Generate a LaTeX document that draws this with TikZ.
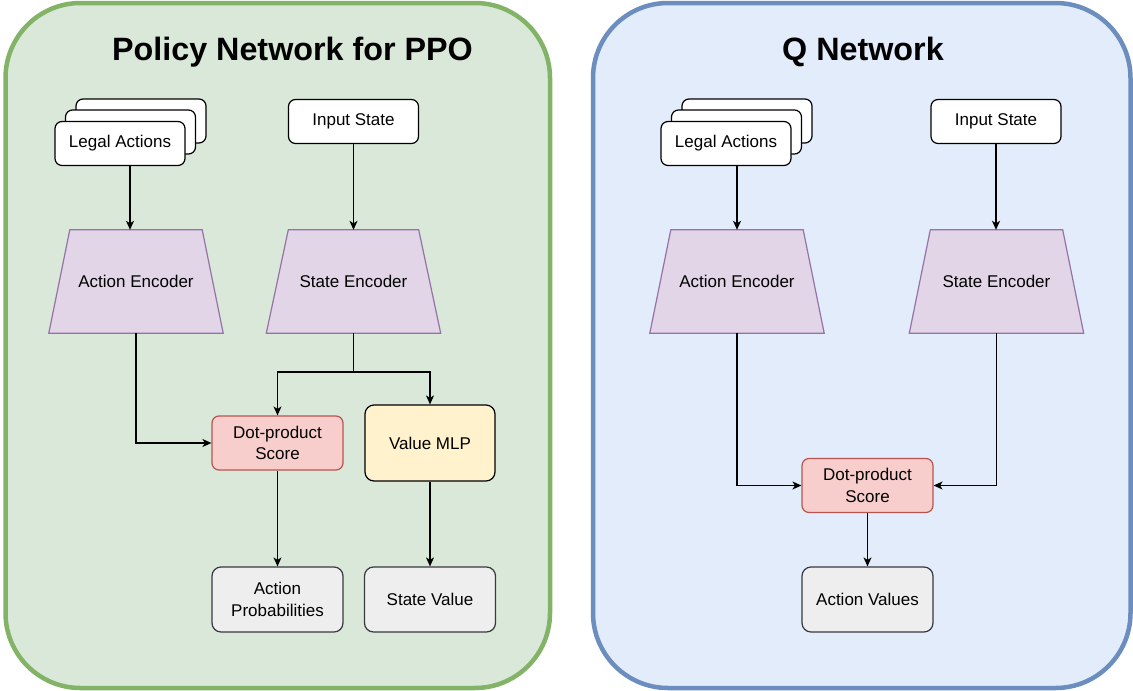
\documentclass[tikz,border=0pt]{standalone}
\usepackage{fontspec}
\setmainfont{Liberation Sans}
\usetikzlibrary{arrows.meta}
\pgfdeclarelayer{bg}
\pgfdeclarelayer{mid}
\pgfsetlayers{bg,mid,main}
\definecolor{greenfill}{HTML}{DAE8D9}
\definecolor{greenline}{HTML}{82B366}
\definecolor{bluefill}{HTML}{E3ECFA}
\definecolor{blueline}{HTML}{6C8EBF}
\definecolor{encfill}{HTML}{E1D5E7}
\definecolor{encline}{HTML}{9673A6}
\definecolor{dotfill}{HTML}{F8CECC}
\definecolor{dotline}{HTML}{B85450}
\definecolor{mlpfill}{HTML}{FFF2CC}
\definecolor{outfill}{HTML}{EEEEEE}
\definecolor{outline}{HTML}{36393D}
\tikzset{
  txt/.style={font=\fontsize{17}{21.5}\selectfont, align=center},
  wbox/.style={txt, draw=black, fill=white, line width=1.2pt, rounded corners=7pt, minimum width=130pt, minimum height=44pt, inner sep=0pt},
  encnode/.style={txt, minimum width=174pt, minimum height=103pt, inner sep=0pt},
  encshape/.style={draw=encline, fill=encfill, line width=1.2pt},
  dotbox/.style={txt, draw=dotline, fill=dotfill, line width=1.2pt, rounded corners=7pt, minimum width=131pt, minimum height=54pt, inner sep=0pt},
  mlpbox/.style={txt, draw=black, fill=mlpfill, line width=1.2pt, rounded corners=9pt, minimum width=130pt, minimum height=76pt, inner sep=0pt},
  outbox/.style={txt, draw=outline, fill=outfill, line width=1.2pt, rounded corners=9pt, minimum width=131pt, minimum height=65pt, inner sep=0pt},
  panel/.style={line width=4.5pt, rounded corners=75pt},
  ttl/.style={font=\fontsize{32.3}{38}\selectfont\bfseries},
  arr/.style={line width=1.2pt, -{Stealth[length=9pt,width=8pt,inset=2.5pt]}},
  ln/.style={line width=1.2pt}
}
\newcommand{\trap}[2]{% node name, inset
  \begin{pgfonlayer}{mid}
  \draw[encshape] ([xshift=#2]#1.north west) -- ([xshift=-#2]#1.north east) -- (#1.south east) -- (#1.south west) -- cycle;
  \end{pgfonlayer}}
\begin{document}
\begin{tikzpicture}[x=1pt,y=-1pt]
\useasboundingbox (0,0) rectangle (1133,691);
\begin{pgfonlayer}{bg}
\draw[panel, draw=greenline, fill=greenfill] (5.5,3) rectangle (550,688);
\draw[panel, draw=blueline, fill=bluefill] (593,3) rectangle (1130.5,688);
\end{pgfonlayer}
\node[ttl] (t1) at (292.5,52) {Policy Network for PPO};
\node[ttl] (t2) at (863,52) {Q Network};

% ---- left panel
\node[wbox] (la3) at (141,121) {};
\node[wbox] (la2) at (130.5,132) {};
\node[wbox] (la) at (120,143.5) {Legal Actions};
\node[wbox] (is) at (353.5,121.5) {Input State};
\node[encnode] (ae) at (136,281.5) {Action Encoder};
\trap{ae}{21}
\node[encnode] (se) at (353.5,281.5) {State Encoder};
\trap{se}{22}
\node[dotbox] (dp) at (277.5,443) {Dot-product\\Score};
\node[mlpbox] (mlp) at (430,443) {Value MLP};
\node[outbox] (ap) at (277.5,599.5) {Action\\Probabilities};
\node[outbox] (sv) at (430,599.5) {State Value};

\draw[arr] ([xshift=10]la.south) -- ([xshift=10]la.south |- ae.north);
\draw[arr] (is.south) -- (is.south |- se.north);
\coordinate (br) at (353.5,372);
\draw[ln] (se.south) -- (br);
\draw[arr] (br) -| (dp.north);
\draw[arr] (br) -| (mlp.north);
\draw[arr] (ae.south) |- (dp.west);
\draw[arr] (dp.south) -- (ap.north);
\draw[arr] (mlp.south) -- (sv.north);

% ---- right panel
\node[wbox] (rla3) at (747,121) {};
\node[wbox] (rla2) at (736.5,132) {};
\node[wbox] (rla) at (726,143.5) {Legal Actions};
\node[wbox] (ris) at (996,121.5) {Input State};
\node[encnode] (rae) at (737,281.5) {Action Encoder};
\trap{rae}{21}
\node[encnode] (rse) at (996.5,281.5) {State Encoder};
\trap{rse}{21}
\node[dotbox] (rdp) at (867.5,485.5) {Dot-product\\Score};
\node[outbox] (av) at (867.5,599.5) {Action Values};

\draw[arr] ([xshift=11]rla.south) -- ([xshift=11]rla.south |- rae.north);
\draw[arr] (ris.south) -- (ris.south |- rse.north);
\draw[arr] (rae.south) |- (rdp.west);
\draw[arr] (rse.south) |- (rdp.east);
\draw[arr] (rdp.south) -- (av.north);
\end{tikzpicture}
\end{document}
